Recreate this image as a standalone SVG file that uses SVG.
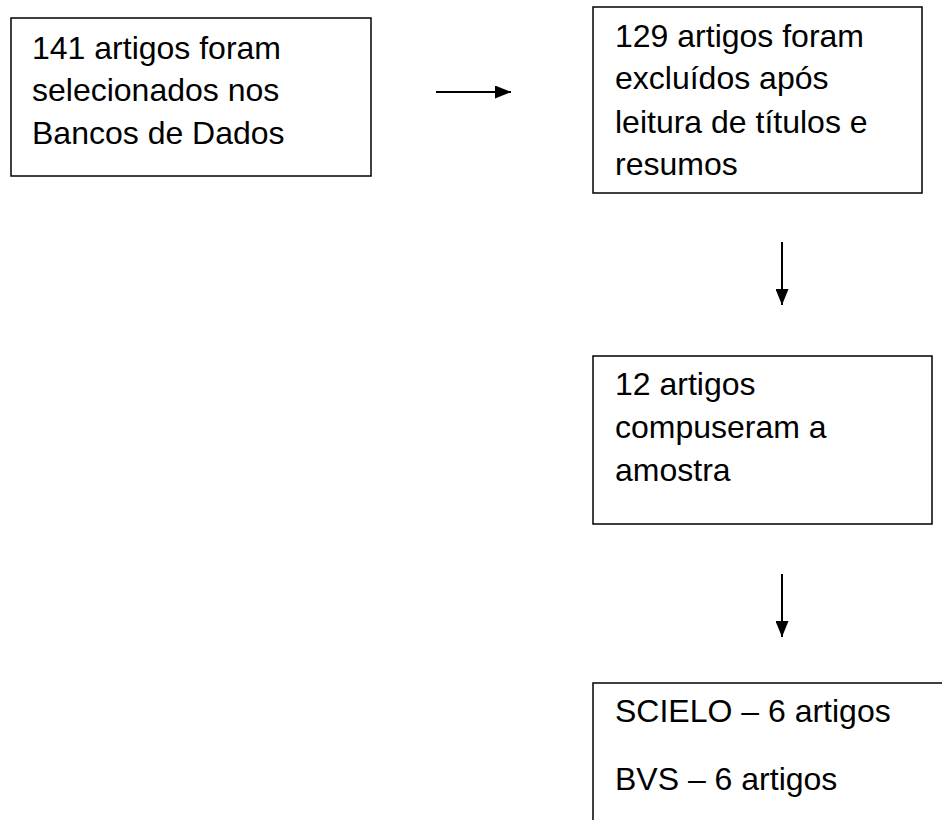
<svg xmlns="http://www.w3.org/2000/svg" width="942" height="820" viewBox="0 0 942 820">
<style>
.box{fill:#fff;stroke:#000;stroke-width:1.5}
.t{font-family:"Liberation Sans",Arial,sans-serif;font-size:32px;fill:#000}
.c{stroke:#000;stroke-width:2;fill:none}
</style>
<defs>
<marker id="ah" viewBox="0 0 16 13" refX="16" refY="6.5" markerWidth="16" markerHeight="13" markerUnits="userSpaceOnUse" orient="auto">
<path d="M0,0 L16,6.5 L0,13 Z" fill="#000"/>
</marker>
</defs>
<rect width="942" height="820" fill="#fff"/>
<g id="n1">
<rect class="box" x="11" y="18" width="360" height="158"/>
<text class="t" x="32" y="59">141 artigos foram</text>
<text class="t" x="32" y="101">selecionados nos</text>
<text class="t" x="32" y="144">Bancos de Dados</text>
</g>
<g id="n2">
<rect class="box" x="593" y="7" width="329" height="186"/>
<text class="t" x="615" y="47">129 artigos foram</text>
<text class="t" x="615" y="89">excluídos após</text>
<text class="t" x="615" y="133">leitura de títulos e</text>
<text class="t" x="615" y="175">resumos</text>
</g>
<g id="n3">
<rect class="box" x="593" y="356" width="339" height="168"/>
<text class="t" x="615" y="395">12 artigos</text>
<text class="t" x="615" y="438">compuseram a</text>
<text class="t" x="615" y="481">amostra</text>
</g>
<g id="n4">
<rect class="box" x="593" y="683" width="360" height="150"/>
<text class="t" x="615" y="722">SCIELO – 6 artigos</text>
<text class="t" x="615" y="790">BVS – 6 artigos</text>
</g>
<g id="connectors">
<line class="c" x1="436" y1="92" x2="511" y2="92" marker-end="url(#ah)"/>
<line class="c" x1="782" y1="242" x2="782" y2="305" marker-end="url(#ah)"/>
<line class="c" x1="782" y1="574" x2="782" y2="637" marker-end="url(#ah)"/>
</g>
</svg>
